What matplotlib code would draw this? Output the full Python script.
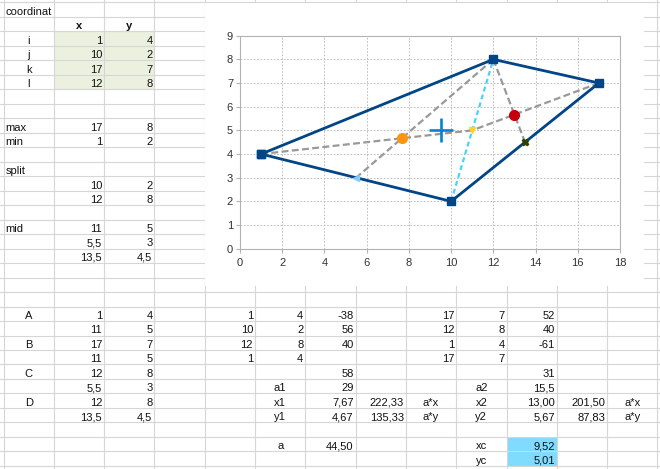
import matplotlib
matplotlib.use('Agg')
import matplotlib.pyplot as plt
from matplotlib.patches import Rectangle

plt.rcParams['font.family'] = ['Liberation Sans', 'DejaVu Sans']
plt.rcParams['lines.scale_dashes'] = False

# ---- spreadsheet data ----
coord_names = ['i', 'j', 'k', 'l']
coord_x = [1, 10, 17, 12]
coord_y = [4, 2, 7, 8]
max_xy = [17, 8]
min_xy = [1, 2]
split_x = [10, 12]
split_y = [2, 8]
mid_x = [11, 5.5, 13.5]
mid_y = [5, 3, 4.5]

seg_names = ['A', 'B', 'C', 'D']
seg_x = [[1, 11], [17, 11], [12, 5.5], [12, 13.5]]
seg_y = [[4, 5], [7, 5], [8, 3], [8, 4.5]]

tri1_x = [1, 10, 12, 1]
tri1_y = [4, 2, 8, 4]
tri1_cross = [-38, 56, 40]
tri2_x = [17, 12, 1, 17]
tri2_y = [7, 8, 4, 7]
tri2_cross = [52, 40, -61]
sum1, a1, x1, y1, ax1, ay1 = 58, 29, 7.67, 4.67, 222.33, 135.33
sum2, a2, x2, y2, ax2, ay2 = 31, 15.5, 13.00, 5.67, 201.50, 87.83
a_total, xc, yc = 44.50, 9.52, 5.01

# polygon order for the chart: i -> l -> k -> j -> i
poly_order = [0, 3, 2, 1, 0]


def num(v, dec=None):
    if dec is not None:
        s = f'{v:.{dec}f}'
    elif float(v).is_integer():
        s = str(int(v))
    else:
        s = f'{v:g}'
    return s.replace('.', ',')


W, H = 660, 469
fig = plt.figure(figsize=(W / 100, H / 100), dpi=100)
bg = fig.add_axes([0, 0, 1, 1])
bg.set_xlim(0, W)
bg.set_ylim(H, 0)
bg.axis('off')

ROW0, ROWH = 2.5, 14.48
COL0, COLW = 3.5, 50.3


def row_top(r):
    return ROW0 + ROWH * r


def col_left(c):
    return COL0 + COLW * c


# cell grid
grid_c = '#d6d6d6'
for r in range(33):
    bg.plot([0, W], [row_top(r), row_top(r)], color=grid_c, lw=0.8, zorder=1)
for c in range(14):
    bg.plot([col_left(c), col_left(c)], [0, H], color=grid_c, lw=0.8, zorder=1)

# shaded cells
bg.add_patch(Rectangle((col_left(1), row_top(2)), 2 * COLW, 4 * ROWH,
                       facecolor='#ebf1de', edgecolor='none', zorder=0.5))
bg.add_patch(Rectangle((col_left(10), row_top(30)), COLW, 2 * ROWH,
                       facecolor='#7fdcff', edgecolor='none', zorder=0.5))


def put(col, row, s, align='right', bold=False):
    if align == 'right':
        x, ha = col_left(col + 1) - 2, 'right'
    elif align == 'center':
        x, ha = col_left(col) + COLW / 2, 'center'
    else:
        x, ha = col_left(col) + 2, 'left'
    bg.text(x, row_top(row) + 12.3, s, ha=ha, va='baseline', fontsize=8,
            fontweight='bold' if bold else 'normal', color='#111111', zorder=3)


put(0, 0, 'coordinat', 'left')
put(1, 1, 'x', 'center', bold=True)
put(2, 1, 'y', 'center', bold=True)
for k, name in enumerate(coord_names):
    put(0, 2 + k, name, 'center')
    put(1, 2 + k, num(coord_x[k]))
    put(2, 2 + k, num(coord_y[k]))
put(0, 8, 'max', 'left')
put(1, 8, num(max_xy[0]))
put(2, 8, num(max_xy[1]))
put(0, 9, 'min', 'left')
put(1, 9, num(min_xy[0]))
put(2, 9, num(min_xy[1]))
put(0, 11, 'split', 'left')
for k in range(2):
    put(1, 12 + k, num(split_x[k]))
    put(2, 12 + k, num(split_y[k]))
put(0, 15, 'mid', 'left')
for k in range(3):
    put(1, 15 + k, num(mid_x[k]))
    put(2, 15 + k, num(mid_y[k]))

for k, name in enumerate(seg_names):
    put(0, 21 + 2 * k, name, 'center')
    for j in range(2):
        put(1, 21 + 2 * k + j, num(seg_x[k][j]))
        put(2, 21 + 2 * k + j, num(seg_y[k][j]))

for k in range(4):
    put(4, 21 + k, num(tri1_x[k]))
    put(5, 21 + k, num(tri1_y[k]))
    put(8, 21 + k, num(tri2_x[k]))
    put(9, 21 + k, num(tri2_y[k]))
for k in range(3):
    put(6, 21 + k, num(tri1_cross[k]))
    put(10, 21 + k, num(tri2_cross[k]))

put(6, 25, num(sum1))
put(10, 25, num(sum2))
put(5, 26, 'a1', 'center')
put(6, 26, num(a1))
put(9, 26, 'a2', 'center')
put(10, 26, num(a2))
put(5, 27, 'x1', 'center')
put(6, 27, num(x1, 2))
put(7, 27, num(ax1, 2))
put(8, 27, 'a*x', 'center')
put(9, 27, 'x2', 'center')
put(10, 27, num(x2, 2))
put(11, 27, num(ax2, 2))
put(12, 27, 'a*x', 'center')
put(5, 28, 'y1', 'center')
put(6, 28, num(y1, 2))
put(7, 28, num(ay1, 2))
put(8, 28, 'a*y', 'center')
put(9, 28, 'y2', 'center')
put(10, 28, num(y2, 2))
put(11, 28, num(ay2, 2))
put(12, 28, 'a*y', 'center')
put(5, 30, 'a', 'center')
put(6, 30, num(a_total, 2))
put(9, 30, 'xc', 'center')
put(10, 30, num(xc, 2))
put(9, 31, 'yc', 'center')
put(10, 31, num(yc, 2))

# chart background
bg.add_patch(Rectangle((205, 3.5), 439, 282.5, facecolor='white',
                       edgecolor='none', zorder=5))

# ---- chart ----
L, R, T, B = 240, 620, 35.7, 248.7
ax = fig.add_axes([L / W, 1 - B / H, (R - L) / W, (B - T) / H], zorder=10)
ax.set_xlim(0, 18)
ax.set_ylim(0, 9)
ax.set_xticks(range(0, 19, 2))
ax.set_yticks(range(0, 10))
ax.grid(True, color='#bdbdbd', lw=0.7, ls=(0, (1.2, 1.2)))
ax.set_axisbelow(True)
for s in ax.spines.values():
    s.set_color('#b3b3b3')
    s.set_linewidth(0.8)
ax.tick_params(length=3, width=0.8, color='#b3b3b3', labelsize=8,
               labelcolor='#333333', pad=2)
ax.tick_params(axis='x', pad=3.5)

gray = '#999999'
for k in range(4):
    ax.plot(seg_x[k], seg_y[k], color=gray, lw=1.6, dashes=(5, 2.4), zorder=2)
ax.plot(split_x, split_y, color='#44d4ff', lw=1.6, dashes=(3.5, 2.4), zorder=2)

px = [coord_x[k] for k in poly_order]
py = [coord_y[k] for k in poly_order]
ax.plot(px, py, color='#004586', lw=2.0, marker='s', ms=6.3, zorder=3,
        clip_on=False)

ax.plot(mid_x[0], mid_y[0], marker='v', ms=4.5, color='#ffd320', ls='none', zorder=4)
ax.plot(mid_x[1], mid_y[1], marker='<', ms=4.5, color='#83caff', ls='none', zorder=4)
ax.plot(mid_x[2], mid_y[2], marker='X', ms=4.5, color='#314004', ls='none', zorder=4)

ax.plot(x1, y1, marker='o', ms=7, color='#ff950e', ls='none', zorder=5)
ax.plot(x2, y2, marker='o', ms=7, color='#c5000b', ls='none', zorder=5)
ax.plot(xc, yc, marker='+', ms=17, mew=1.9, color='#0084d1', ls='none', zorder=6)

fig.savefig('out.png', dpi=100)
